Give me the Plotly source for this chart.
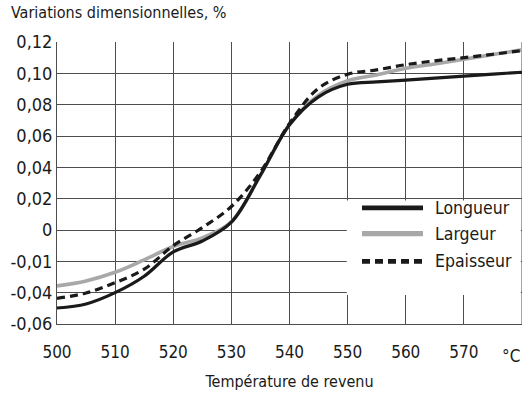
import plotly.graph_objects as go

# Temperature (°C) and values read on the chart's (evenly spaced) vertical scale
temp = [500, 505, 510, 515, 520, 525, 530, 535, 540, 545, 550, 555, 560, 565, 570, 575, 580]
longueur = [-0.0498, -0.0472, -0.0400, -0.0295, -0.0140, -0.0070, 0.0050, 0.0350, 0.0672, 0.0850, 0.0930, 0.0945, 0.0957, 0.0970, 0.0982, 0.0995, 0.1007]
largeur = [-0.0357, -0.0325, -0.0270, -0.0190, -0.0105, -0.0050, 0.0052, 0.0350, 0.0672, 0.0860, 0.0953, 0.0990, 0.1032, 0.1060, 0.1090, 0.1120, 0.1150]
epaisseur = [-0.0436, -0.0402, -0.0336, -0.0250, -0.0100, 0.0015, 0.0150, 0.0370, 0.0680, 0.0905, 0.0994, 0.1022, 0.1055, 0.1080, 0.1100, 0.1122, 0.1145]

series_names = ["Longueur", "Largeur", "Epaisseur"]

x_tickvals = [500, 510, 520, 530, 540, 550, 560, 570]
x_ticktext = ["500", "510", "520", "530", "540", "550", "560", "570"]
x_unit = "°C"

y_tickvals = [-0.06, -0.04, -0.02, 0, 0.02, 0.04, 0.06, 0.08, 0.10, 0.12]
y_ticktext = ["-0,06", "-0,04", "-0,01", "0", "0,02", "0,04", "0,06", "0,08", "0,10", "0,12"]

title_text = "Variations dimensionnelles, %"
xtitle_text = "Température de revenu"

FONT = "DejaVu Sans Condensed, Open Sans, sans-serif"
TXT = "#1a1a1a"
GRID = "#4d4d4d"
BLACK = "#1a1a1a"
GREY = "#a8a8a8"
DASH = "8px,5px"

styles = [
    dict(color=BLACK, width=3.2, dash="solid"),
    dict(color=GREY, width=3.6, dash="solid"),
    dict(color=BLACK, width=3.2, dash=DASH),
]

fig = go.Figure()
data = [longueur, largeur, epaisseur]
for i in [1, 0, 2]:
    fig.add_trace(go.Scatter(
        x=temp, y=data[i], mode="lines", name=series_names[i],
        line=dict(shape="spline", smoothing=1.0, **styles[i]),
        showlegend=False, hoverinfo="skip",
    ))

# Custom legend box (white, covering grid)
fig.add_shape(type="rect", xref="x", yref="y", x0=549.85, x1=579.8, y0=-0.0415, y1=0.0188,
              fillcolor="white", line=dict(width=0), layer="above")
leg_y = [0.0141, -0.0023, -0.0200]
for i in range(3):
    fig.add_shape(type="line", xref="paper", yref="y",
                  x0=(362 - 57) / 465, x1=(423 - 57) / 465, y0=leg_y[i], y1=leg_y[i],
                  line=dict(color=styles[i]["color"], width=styles[i]["width"] + 1.6,
                            dash=styles[i]["dash"]),
                  layer="above")
    fig.add_annotation(xref="paper", yref="y", x=(433 - 57) / 465, y=leg_y[i],
                       text=series_names[i], showarrow=False, xanchor="left", yanchor="middle",
                       font=dict(family=FONT, size=17.5, color=TXT))

# unit label at the last tick
fig.add_annotation(xref="x", yref="paper", x=580, y=0, yshift=-20, text=x_unit,
                   showarrow=False, xanchor="right", yanchor="top",
                   font=dict(family=FONT, size=17, color=TXT))

fig.add_annotation(xref="paper", yref="paper", x=(9 - 57) / 465, y=1, yshift=41,
                   text=title_text, showarrow=False, xanchor="left", yanchor="top",
                   font=dict(family=FONT, size=16, color=TXT))

fig.update_layout(
    width=528, height=394,
    margin=dict(l=57, r=6, t=42, b=70),
    paper_bgcolor="white", plot_bgcolor="white",
    font=dict(family=FONT, size=16, color=TXT),
    xaxis=dict(range=[500, 580], tickvals=x_tickvals, ticktext=x_ticktext,
               showgrid=True, gridcolor=GRID, gridwidth=1,
               showline=True, linecolor=GRID, linewidth=1, mirror=False,
               ticks="", zeroline=False, ticklabelstandoff=13, tickfont=dict(size=17),
               title=dict(text=xtitle_text, standoff=14, font=dict(size=16))),
    yaxis=dict(range=[-0.06, 0.12], tickvals=y_tickvals, ticktext=y_ticktext,
               showgrid=True, gridcolor=GRID, gridwidth=1,
               showline=True, linecolor=GRID, linewidth=1,
               ticks="", zeroline=False, tickfont=dict(size=18)),
)
fig.add_shape(type="line", xref="x", yref="paper", x0=580, x1=580, y0=0, y1=1,
              line=dict(color=GRID, width=1), layer="below")

fig.write_html("out.html")
